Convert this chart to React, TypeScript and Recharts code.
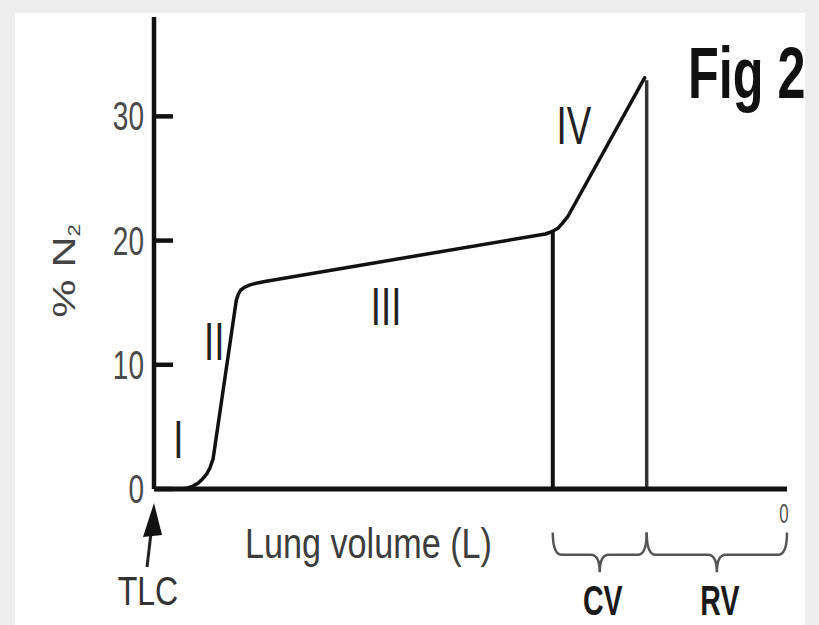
import React from 'react'
import {
  LineChart,
  Line,
  XAxis,
  YAxis,
  ReferenceLine,
  ReferenceArea,
  ReferenceDot,
} from 'recharts'

// nitrogen washout curve (volume in L from TLC down to 0)
const volume = [
  5.74, 5.68, 5.63, 5.58, 5.54, 5.5, 5.47, 5.44, 5.22, 5.2, 5.18, 5.14, 5.09, 5.02, 4.95,
  2.29, 2.25, 2.21, 2.17, 2.13, 2.08, 1.35,
]
const n2 = [
  0, 0.08, 0.24, 0.48, 0.81, 1.21, 1.69, 2.42, 15.2, 15.7, 16.0, 16.26, 16.43, 16.59, 16.71,
  20.53, 20.65, 20.81, 21.0, 21.38, 21.9, 33.1,
]

const yTicks = [0, 10, 20, 30]
const xTicks = [6, 0]

const phaseLabels = ['I', 'II', 'III', 'IV']
const phaseX = [5.77, 5.43, 3.8, 2.02]
const phaseY = [4.0, 11.9, 14.7, 29.3]

const cvStart = 2.22
const rvStart = 1.33
const closingN2 = 20.8
const peakN2 = 32.9

const segments = ['CV', 'RV']
const segmentFrom = [cvStart, rvStart]
const segmentTo = [rvStart, 0]

const data = volume.map((v, i) => ({ volume: v, n2: n2[i] }))

const FONT = '"Liberation Sans", Arial, sans-serif'

function YTick({ x, y, payload }: any) {
  return (
    <text
      transform={`translate(${x},${y + 14}) scale(0.7,1)`}
      textAnchor="end"
      fontSize={40}
      fontFamily={FONT}
      fill="#4a4a4a"
    >
      {payload.value}
    </text>
  )
}

function XTick({ x, y, payload }: any) {
  if (payload.value === 6) {
    // TLC marker with arrow pointing at the axis origin
    return (
      <g>
        <line x1={x - 7} y1={y + 78} x2={x - 3} y2={y + 44} stroke="#222" strokeWidth={3} />
        <path d={`M${x},${y + 14} L${x - 11},${y + 48} L${x + 8},${y + 46} Z`} fill="#111" />
        <text
          transform={`translate(${x - 6},${y + 116}) scale(0.78,1)`}
          textAnchor="middle"
          fontSize={41}
          fontFamily={FONT}
          fill="#333"
        >
          TLC
        </text>
      </g>
    )
  }
  return (
    <text
      transform={`translate(${x - 3},${y + 34}) scale(0.6,1)`}
      textAnchor="middle"
      fontSize={28}
      fontFamily={FONT}
      fill="#555"
    >
      {payload.value}
    </text>
  )
}

function YLabel() {
  return (
    <text
      transform="translate(75,271) scale(0.74,1) rotate(-90)"
      textAnchor="middle"
      fontSize={43}
      fontFamily={FONT}
      fill="#444"
    >
      <tspan>% N</tspan>
      <tspan fontSize={22} dy={7}>2</tspan>
    </text>
  )
}

function XLabel() {
  return (
    <text
      transform="translate(245,558) scale(0.795,1)"
      fontSize={43}
      fontFamily={FONT}
      fill="#3d3d3d"
    >
      Lung volume (L)
    </text>
  )
}

function Brace({ x, y, width, height, text }: any) {
  const m = height * 0.56
  const r = 9
  const cx = x + width / 2
  const d = [
    `M${x},${y}`,
    `Q${x},${y + m} ${x + r},${y + m}`,
    `L${cx - r},${y + m}`,
    `Q${cx},${y + m} ${cx},${y + height}`,
    `Q${cx},${y + m} ${cx + r},${y + m}`,
    `L${x + width - r},${y + m}`,
    `Q${x + width},${y + m} ${x + width},${y}`,
  ].join(' ')
  return (
    <g>
      <path d={d} fill="none" stroke="#555" strokeWidth={2.5} />
      <text
        transform={`translate(${cx + 3},${y + height + 43}) scale(0.68,1)`}
        textAnchor="middle"
        fontSize={42}
        fontWeight="bold"
        fontFamily={FONT}
        fill="#1a1a1a"
      >
        {text}
      </text>
    </g>
  )
}

export default function App() {
  return (
    <div style={{ position: 'absolute', left: 0, top: 0, width: 819, height: 625, background: '#eeeeee' }}>
      <div style={{ position: 'absolute', left: 15, top: 13, width: 790, height: 612, background: '#fff' }} />
      <div style={{ position: 'absolute', left: 0, top: 0 }}>
        <LineChart width={819} height={625} data={data} margin={{ top: 17, right: 32, bottom: 0, left: 0 }}>
          <XAxis
            dataKey="volume"
            type="number"
            domain={[0, 6]}
            reversed
            ticks={xTicks}
            interval={0}
            height={136}
            tickLine={false}
            tickSize={0}
            tickMargin={0}
            tick={<XTick />}
            axisLine={{ stroke: '#111', strokeWidth: 5 }}
            label={<XLabel />}
          />
          <YAxis
            type="number"
            domain={[0, 38]}
            ticks={yTicks}
            interval={0}
            width={154}
            tickSize={-19}
            tickMargin={29}
            tickLine={{ stroke: '#111', strokeWidth: 4.5 }}
            tick={<YTick />}
            axisLine={{ stroke: '#111', strokeWidth: 4.5 }}
            label={<YLabel />}
          />
          <ReferenceLine
            segment={[{ x: cvStart, y: 0 }, { x: cvStart, y: closingN2 }]}
            stroke="#111"
            strokeWidth={4}
            ifOverflow="visible"
          />
          <ReferenceLine
            segment={[{ x: rvStart, y: 0 }, { x: rvStart, y: peakN2 }]}
            stroke="#333"
            strokeWidth={3.5}
            ifOverflow="visible"
          />
          <Line
            type="linear"
            dataKey="n2"
            stroke="#111"
            strokeWidth={3.5}
            strokeLinejoin="round"
            strokeLinecap="round"
            dot={false}
            activeDot={false}
            isAnimationActive={false}
          />
          {phaseLabels.map((label, i) => (
            <ReferenceDot
              key={label}
              x={phaseX[i]}
              y={phaseY[i]}
              r={0}
              ifOverflow="visible"
              shape={(p: any) => (
                <text
                  transform={`translate(${p.cx},${p.cy + 19}) scale(0.68,1)`}
                  textAnchor="middle"
                  fontSize={54}
                  fontFamily={FONT}
                  fill="#222"
                >
                  {label}
                </text>
              )}
            />
          ))}
          {segments.map((seg, i) => (
            <ReferenceArea
              key={seg}
              x1={segmentFrom[i]}
              x2={segmentTo[i]}
              y1={-3.5}
              y2={-6.7}
              ifOverflow="visible"
              shape={(p: any) => <Brace {...p} text={seg} />}
            />
          ))}
        </LineChart>
      </div>
      <svg width={819} height={625} style={{ position: 'absolute', left: 0, top: 0, pointerEvents: 'none' }}>
        <text
          transform="translate(688,98) scale(0.7,1)"
          fontSize={72}
          fontWeight="bold"
          fontFamily={FONT}
          fill="#111"
        >
          Fig 2
        </text>
      </svg>
    </div>
  )
}
